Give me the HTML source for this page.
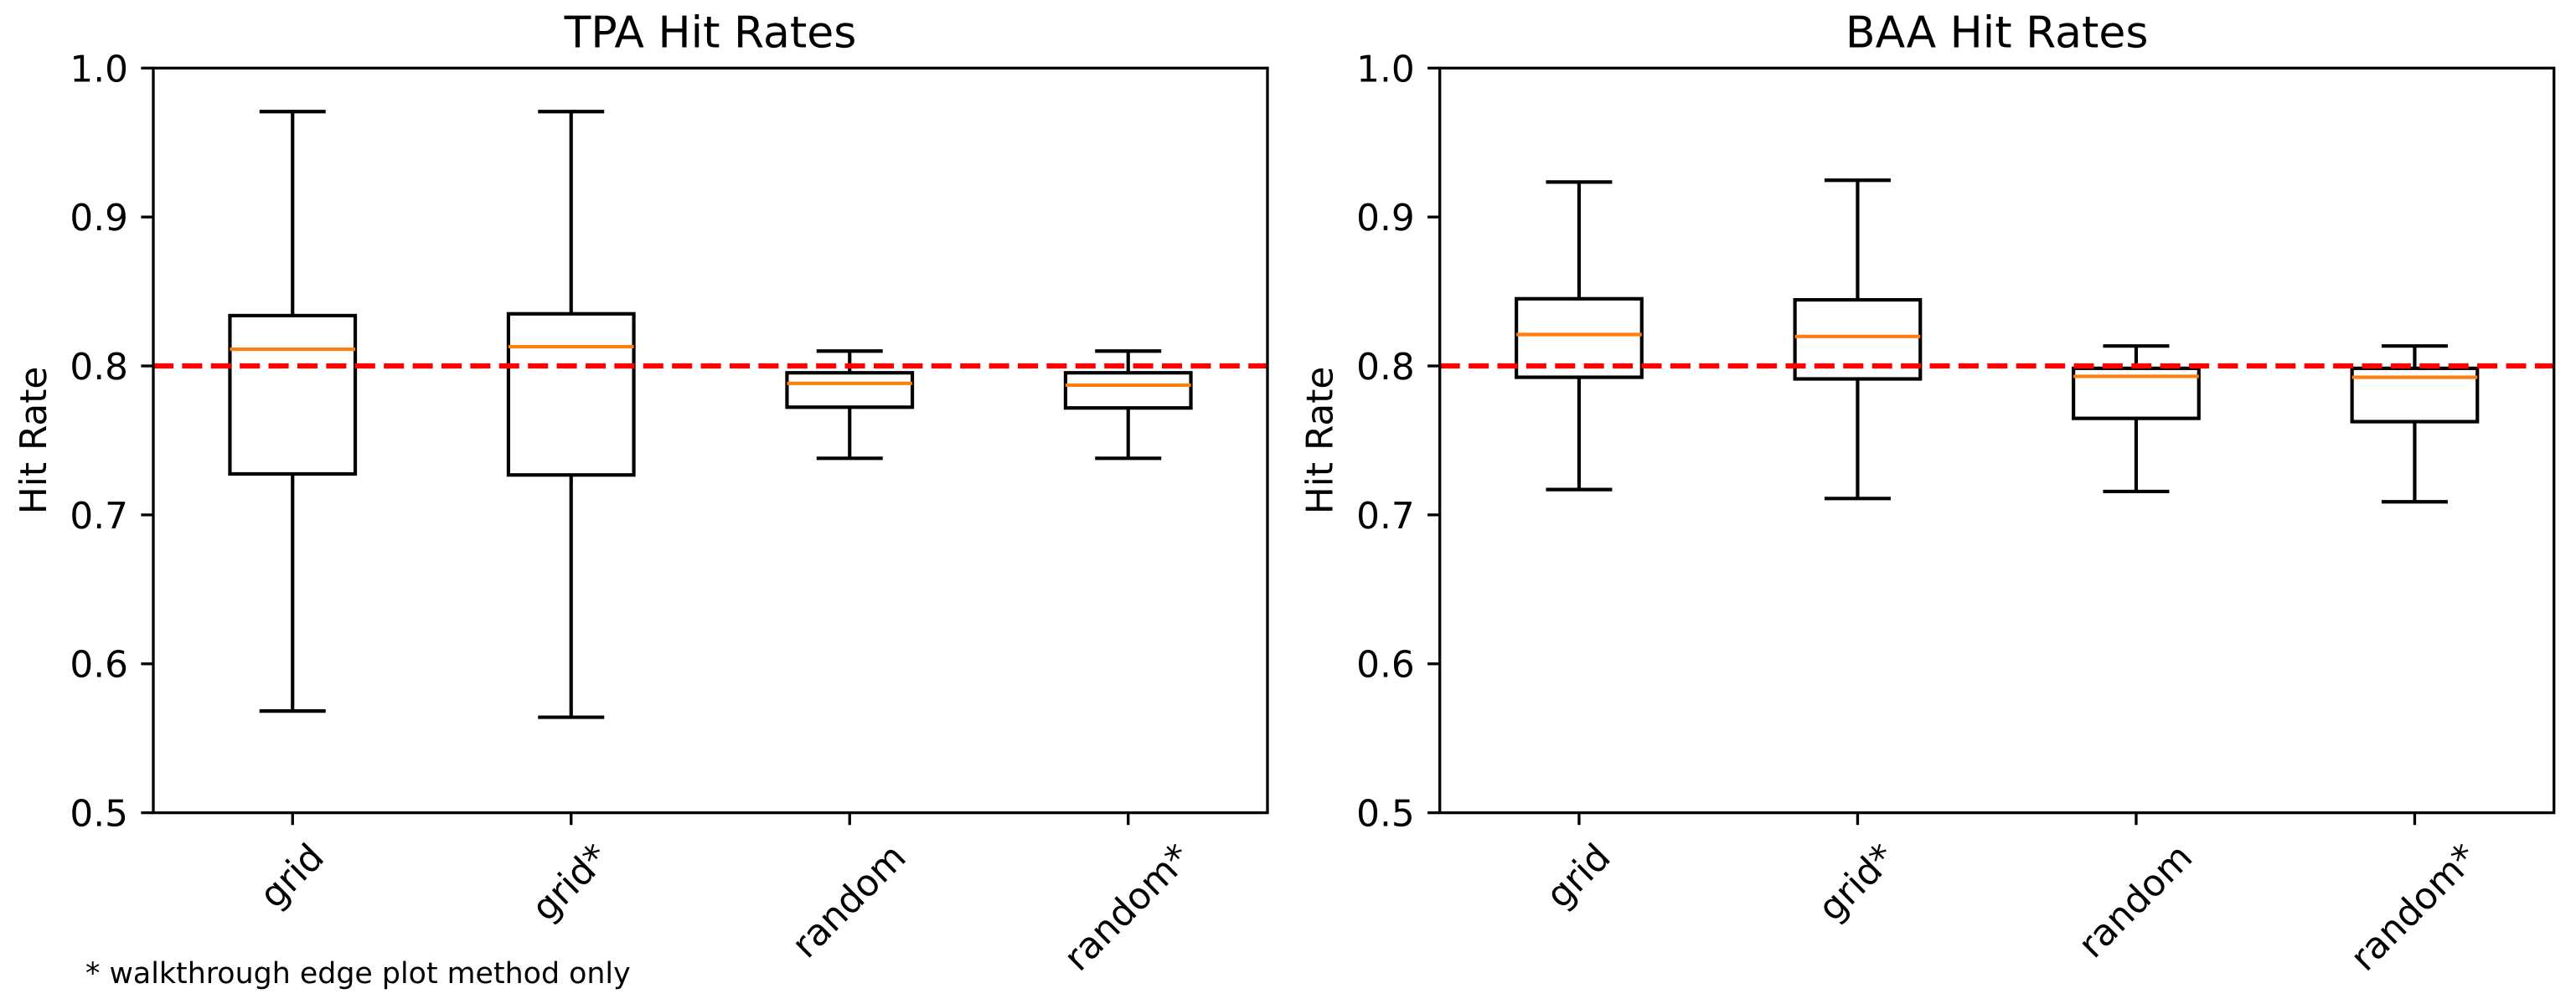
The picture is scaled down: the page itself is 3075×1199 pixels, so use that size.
<!DOCTYPE html>
<html lang="en">
<head>
<meta charset="utf-8">
<title>TPA and BAA Hit Rates</title>
<style>
html,body{margin:0;padding:0;background:#fff;}
body{width:3075px;height:1199px;overflow:hidden;}
svg{display:block;}
text{font-family:"DejaVu Sans","Liberation Sans",sans-serif;fill:#000;text-rendering:geometricPrecision;}
</style>
</head>
<body>
<svg id="figure" xmlns="http://www.w3.org/2000/svg" width="3075" height="1199" viewBox="0 0 3075 1199">
<rect x="0" y="0" width="3075" height="1199" fill="#ffffff"/>
<text x="102" y="1174" font-size="34.8">* walkthrough edge plot method only</text>
</svg>
<script>
const categories = ['grid', 'grid*', 'random', 'random*'];
const yTickValues = [0.5, 0.6, 0.7, 0.8, 0.9, 1.0];
const yTickLabels = ['0.5', '0.6', '0.7', '0.8', '0.9', '1.0'];
const referenceRate = [0.8];

const tpaWhiskerHigh = [0.9708, 0.9708, 0.8100, 0.8100];
const tpaQ3 = [0.8338, 0.8350, 0.7954, 0.7954];
const tpaMedian = [0.8112, 0.8129, 0.7883, 0.7871];
const tpaQ1 = [0.7275, 0.7268, 0.7723, 0.7718];
const tpaWhiskerLow = [0.5683, 0.5641, 0.7380, 0.7380];

const baaWhiskerHigh = [0.9235, 0.9247, 0.8134, 0.8134];
const baaQ3 = [0.8451, 0.8444, 0.7984, 0.7984];
const baaMedian = [0.8211, 0.8198, 0.7930, 0.7924];
const baaQ1 = [0.7924, 0.7913, 0.7648, 0.7626];
const baaWhiskerLow = [0.7170, 0.7110, 0.7157, 0.7088];

const NS = 'http://www.w3.org/2000/svg';
const svg = document.getElementById('figure');

function node(parent, tag, attrs) {
  const el = document.createElementNS(NS, tag);
  for (const k in attrs) el.setAttribute(k, attrs[k]);
  parent.appendChild(el);
  return el;
}

function drawPanel(prefix, title, left, width, whiskerHigh, q3, median, q1, whiskerLow) {
  const top = 81.3, bottom = 970.6;
  const xScale = v => left + (v - 0.5) / 4 * width;
  const yScale = v => bottom - (v - 0.5) / 0.5 * (bottom - top);
  const boxWidth = 0.45, capWidth = 0.225;
  const lw = 4.17, spineW = 3.33, tickLen = 14.6;
  const labelSize = 43.75;

  const g = node(svg, 'g', {});
  
  

  categories.forEach((cat, i) => {
    const cx = xScale(i + 1);
    const box = node(g, 'g', {});
    
    

    const wh = node(box, 'line', {x1: cx, x2: cx, y1: yScale(q3[i]), y2: yScale(whiskerHigh[i]), stroke: '#000', 'stroke-width': lw});
    
    

    const wl = node(box, 'line', {x1: cx, x2: cx, y1: yScale(q1[i]), y2: yScale(whiskerLow[i]), stroke: '#000', 'stroke-width': lw});
    
    

    const capHalf = xScale(capWidth / 2 + 1) - xScale(1);
    const ch = node(box, 'line', {x1: cx - capHalf, x2: cx + capHalf, y1: yScale(whiskerHigh[i]), y2: yScale(whiskerHigh[i]), stroke: '#000', 'stroke-width': lw, 'stroke-linecap': 'square'});
    
    

    const cl = node(box, 'line', {x1: cx - capHalf, x2: cx + capHalf, y1: yScale(whiskerLow[i]), y2: yScale(whiskerLow[i]), stroke: '#000', 'stroke-width': lw, 'stroke-linecap': 'square'});
    
    

    const boxHalf = xScale(boxWidth / 2 + 1) - xScale(1);
    const r = node(box, 'rect', {x: cx - boxHalf, y: yScale(q3[i]), width: boxHalf * 2, height: yScale(q1[i]) - yScale(q3[i]), fill: 'none', stroke: '#000', 'stroke-width': lw});
    
    

    const m = node(box, 'line', {x1: cx - boxHalf, x2: cx + boxHalf, y1: yScale(median[i]), y2: yScale(median[i]), stroke: '#ff7f0e', 'stroke-width': lw});
    
    
  });

  const ref = node(g, 'line', {x1: left, x2: left + width, y1: yScale(referenceRate[0]), y2: yScale(referenceRate[0]), stroke: '#ff0000', 'stroke-width': 6.25, 'stroke-dasharray': '24 10.4'});
  
  

  const frame = node(g, 'rect', {x: left, y: top, width: width, height: bottom - top, fill: 'none', stroke: '#000', 'stroke-width': spineW, 'stroke-linejoin': 'miter'});
  
  

  yTickValues.forEach((v, i) => {
    const y = yScale(v);
    const t = node(g, 'line', {x1: left - tickLen, x2: left, y1: y, y2: y, stroke: '#000', 'stroke-width': spineW});
    
    
    const lab = node(g, 'text', {x: left - 30, y: y + 16, 'font-size': labelSize, 'text-anchor': 'end'});
    
    
    lab.textContent = yTickLabels[i];
  });

  categories.forEach((cat, i) => {
    const cx = xScale(i + 1);
    const t = node(g, 'line', {x1: cx, x2: cx, y1: bottom, y2: bottom + tickLen, stroke: '#000', 'stroke-width': spineW});
    
    
    const lab = node(g, 'text', {'font-size': labelSize, 'text-anchor': 'middle', x: 0, y: 12});
    
    
    lab.textContent = cat;
    const w = lab.getComputedTextLength();
    const bboxH = (w + 49) * Math.SQRT1_2;
    lab.setAttribute('transform', 'translate(' + (cx + 1) + ' ' + (bottom + 30 + bboxH / 2) + ') rotate(-45)');
  });

  const ttl = node(g, 'text', {x: left + width / 2, y: 56.5, 'font-size': 52, 'text-anchor': 'middle'});
  
  
  ttl.textContent = title;

  const yl = node(g, 'text', {'font-size': labelSize, 'text-anchor': 'middle', transform: 'translate(' + (left - 128) + ' ' + (top + bottom) / 2 + ') rotate(-90)'});
  
  
  yl.textContent = 'Hit Rate';
}

drawPanel('tpa', 'TPA Hit Rates', 183, 1330, tpaWhiskerHigh, tpaQ3, tpaMedian, tpaQ1, tpaWhiskerLow);
drawPanel('baa', 'BAA Hit Rates', 1718.7, 1330, baaWhiskerHigh, baaQ3, baaMedian, baaQ1, baaWhiskerLow);
</script>
</body>
</html>
